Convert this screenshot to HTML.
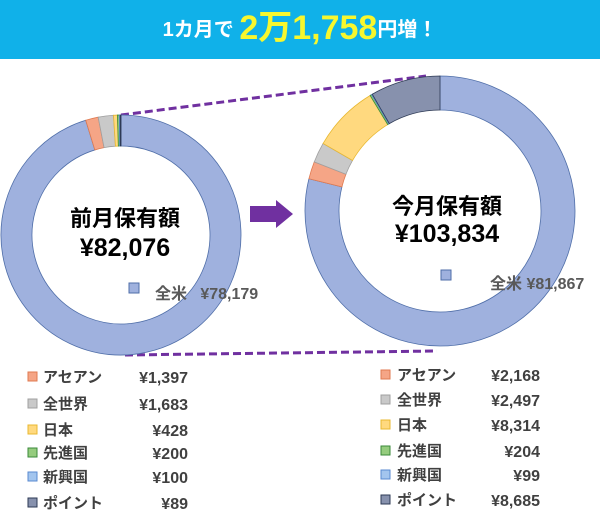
<!DOCTYPE html>
<html><head><meta charset="utf-8">
<style>
html,body{margin:0;padding:0;background:#fff;}
body{width:600px;height:516px;overflow:hidden;position:relative;font-family:"Liberation Sans","Noto Sans CJK JP",sans-serif;}
#banner{position:absolute;left:0;top:0;width:600px;height:59px;background:#10b1e9;text-align:center;color:#fff;font-weight:bold;}
#banner .t{position:absolute;left:0;right:0;top:8px;font-size:20px;line-height:40px;}
#banner .big{color:#f7f72e;font-size:34px;vertical-align:-3px;}
svg{position:absolute;left:0;top:0;}
</style></head>
<body>
<div id="banner"><div class="t">1カ月で <span class="big">2万1,758</span>円増！</div></div>
<svg id="chart" width="600" height="516"></svg>
<script>
const categories=["全米","アセアン","全世界","日本","先進国","新興国","ポイント"];
const prevValues=[78179,1397,1683,428,200,100,89];
const currValues=[81867,2168,2497,8314,204,99,8685];
const prevTotalLabel="¥82,076";
const currTotalLabel="¥103,834";
const fills=["#9fb1de","#f5a586","#c9c9c9","#ffd97f","#95cc7e","#a3c5ee","#8791ad"];
const strokes=["#4f6ea8","#e07a50","#a0a0a0","#e8b830","#3a8a3a","#5a8ad0","#2e3a55"];
const NS="http://www.w3.org/2000/svg";
const svg=document.getElementById('chart');
function mk(t,a){const e=document.createElementNS(NS,t);for(const k in a)e.setAttribute(k,a[k]);svg.appendChild(e);return e;}
function fmt(v){return "¥"+v.toLocaleString("en-US");}
function donut(cx,cy,ro,ri,vals,name){
  const tot=vals.reduce((a,b)=>a+b,0);let a0=0;
  vals.forEach((v,i)=>{
    const a1=a0+v/tot*2*Math.PI;
    const p=(r,a)=>[cx+r*Math.sin(a),cy-r*Math.cos(a)];
    const lg=(a1-a0)>Math.PI?1:0;
    const [x0,y0]=p(ro,a0),[x1,y1]=p(ro,a1),[x2,y2]=p(ri,a1),[x3,y3]=p(ri,a0);
    const e=mk('path',{d:`M${x0},${y0}A${ro},${ro} 0 ${lg} 1 ${x1},${y1}L${x2},${y2}A${ri},${ri} 0 ${lg} 0 ${x3},${y3}Z`,fill:fills[i],stroke:strokes[i],'stroke-width':0.8});
    
    
    a0=a1;
  });
}
function txt(x,y,s,o){const e=mk('text',Object.assign({x:x,y:y},o));e.textContent=s;return e;}
let l=mk('line',{x1:121,y1:115,x2:426,y2:76,stroke:'#7030a0','stroke-width':3,'stroke-dasharray':'8,4'});

l=mk('line',{x1:125,y1:355,x2:437,y2:351,stroke:'#7030a0','stroke-width':3,'stroke-dasharray':'8,4'});

donut(121,235,120,89,prevValues,'prev');
donut(440,211,135,101,currValues,'curr');
let ar=mk('polygon',{points:'250,206 276,206 276,200 293,214 276,228 276,222 250,222',fill:'#7030a0'});

const big={'font-weight':'bold','font-size':22,fill:'#000','text-anchor':'middle','font-family':'"Liberation Sans","Noto Sans CJK JP",sans-serif'};
let t=txt(125,226,"前月保有額",big);
t=txt(125,256,prevTotalLabel,Object.assign({},big,{'font-size':25}));
t=txt(447,214,"今月保有額",big);
t=txt(447,242,currTotalLabel,Object.assign({},big,{'font-size':25}));
const lab={'font-weight':'bold','font-size':16,fill:'#595959','font-family':'"Liberation Sans","Noto Sans CJK JP",sans-serif'};
let r=mk('rect',{x:129,y:283,width:10,height:10,fill:fills[0],stroke:strokes[0]});
t=txt(155,299,categories[0]+"   "+fmt(prevValues[0]),Object.assign({'xml:space':'preserve'},lab));
t.style.whiteSpace='pre';
r=mk('rect',{x:441,y:270,width:10,height:10,fill:fills[0],stroke:strokes[0]});
t=txt(490,289,categories[0]+" "+fmt(currValues[0]),lab);
const leg={'font-size':15,'font-weight':'bold',fill:'#404040','font-family':'"Liberation Sans","Noto Sans CJK JP",sans-serif'};
const lrow=[377,404,430,453,477,503], rrow=[375,400,425,451,475,500];
for(let i=1;i<categories.length;i++){
  let m=mk('rect',{x:28,y:lrow[i-1]-5,width:9,height:9,fill:fills[i],stroke:strokes[i]});
  
  let a=txt(43,lrow[i-1]+5,categories[i],leg);
  let b=txt(188,lrow[i-1]+6,fmt(prevValues[i]),Object.assign({},leg,{'text-anchor':'end','font-size':16}));
  m=mk('rect',{x:381,y:rrow[i-1]-5,width:9,height:9,fill:fills[i],stroke:strokes[i]});
  
  a=txt(397,rrow[i-1]+5,categories[i],leg);
  b=txt(540,rrow[i-1]+6,fmt(currValues[i]),Object.assign({},leg,{'text-anchor':'end','font-size':16}));
}
</script>
</body></html>
